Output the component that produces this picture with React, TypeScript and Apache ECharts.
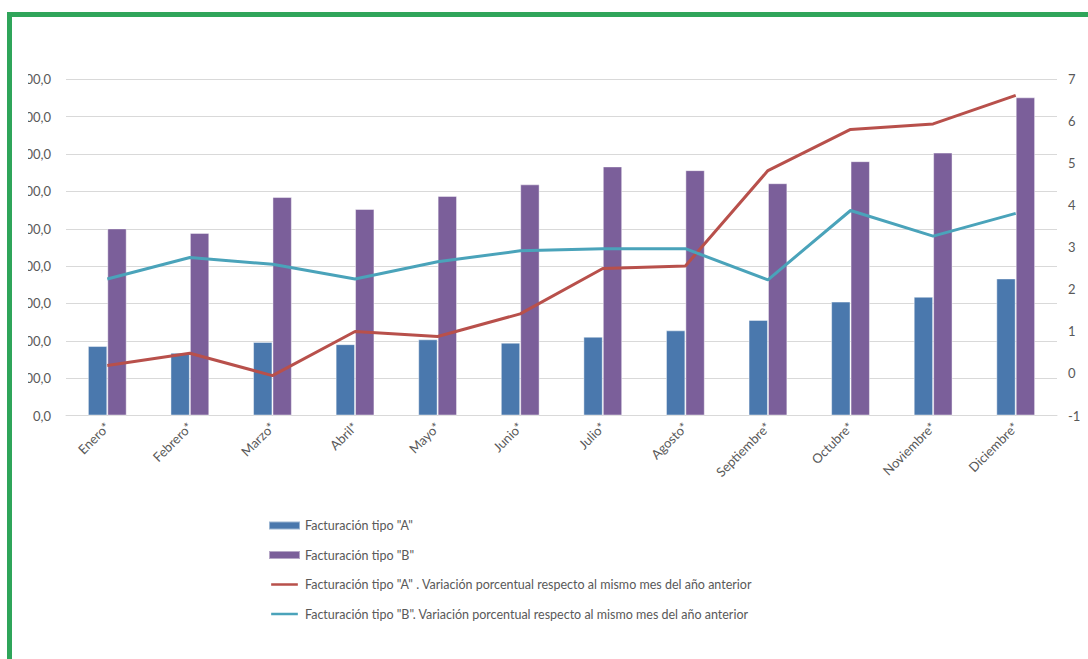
import React, { useEffect, useRef } from "react";
import * as echarts from "echarts";

const categories = ["Enero*", "Febrero*", "Marzo*", "Abril*", "Mayo*", "Junio*", "Julio*", "Agosto*", "Septiembre*", "Octubre*", "Noviembre*", "Diciembre*"];
const facturacionA = [186, 168, 197, 191, 204, 195, 211, 228, 256, 305, 318, 367];
const facturacionB = [501, 489, 585, 553, 588, 619, 667, 657, 622, 681, 704, 852];
const variacionA = [0.19, 0.48, -0.05, 1.0, 0.88, 1.42, 2.5, 2.56, 4.83, 5.81, 5.94, 6.62];
const variacionB = [2.25, 2.76, 2.6, 2.25, 2.66, 2.92, 2.97, 2.97, 2.23, 3.88, 3.27, 3.81];

const nameA = 'Facturación tipo "A"';
const nameB = 'Facturación tipo "B"';
const nameVA = 'Facturación tipo "A" . Variación porcentual respecto al mismo mes del año anterior';
const nameVB = 'Facturación tipo "B". Variación porcentual respecto al mismo mes del año anterior';

const FONT = "Lato";
const GREY = "#595959";
const GRID = "#d9d9d9";
const LINE_ICON = "path://M0,0L30,0L30,0.01ZM0,3L30,3L30,6L0,6ZM0,8.99L30,8.99L30,9Z";

export default function App() {
  const ref = useRef<HTMLDivElement>(null);
  useEffect(() => {
    if (!ref.current) return;
    const chart = echarts.init(ref.current, null, { renderer: "svg" });
    chart.setOption({
      animation: false,
      backgroundColor: "#ffffff",
      textStyle: { fontFamily: FONT },
      grid: { left: 66, right: 31, top: 79.4, bottom: 243.5, containLabel: false },
      legend: {
        orient: "vertical",
        left: 268,
        top: 519,
        padding: 0,
        itemGap: 16.5,
        itemWidth: 31,
        itemHeight: 8,
        textStyle: { color: GREY, fontSize: 12.5, fontFamily: FONT },
        data: [
          { name: nameA, icon: "rect" },
          { name: nameB, icon: "rect" },
          { name: nameVA, icon: LINE_ICON },
          { name: nameVB, icon: LINE_ICON },
        ],
      },
      xAxis: {
        type: "category",
        data: categories,
        boundaryGap: true,
        axisTick: { show: false },
        axisLine: { lineStyle: { color: GRID, width: 1 } },
        axisLabel: { rotate: 45, margin: 9, color: GREY, fontSize: 13, fontFamily: FONT, interval: 0 },
      },
      yAxis: [
        {
          type: "value",
          min: 0,
          max: 900,
          interval: 100,
          axisLine: { show: false },
          axisTick: { show: false },
          splitLine: { lineStyle: { color: GRID, width: 1 } },
          axisLabel: {
            margin: 15,
            color: GREY,
            fontSize: 13,
            fontFamily: FONT,
            formatter: (v: number) => v.toFixed(1).replace(".", ","),
          },
        },
        {
          type: "value",
          min: -1,
          max: 7,
          interval: 1,
          position: "right",
          axisLine: { show: false },
          axisTick: { show: false },
          splitLine: { show: false },
          axisLabel: { margin: 11, color: GREY, fontSize: 13, fontFamily: FONT },
        },
      ],
      series: [
        {
          name: nameA,
          type: "bar",
          data: facturacionA,
          barGap: "0%",
          barCategoryGap: "53%",
          itemStyle: { color: "#4a78ad", borderColor: "rgba(255,255,255,0.45)", borderWidth: 1 },
        },
        {
          name: nameB,
          type: "bar",
          data: facturacionB,
          itemStyle: { color: "#7b5f9a", borderColor: "rgba(255,255,255,0.45)", borderWidth: 1 },
        },
        {
          name: nameVA,
          type: "line",
          yAxisIndex: 1,
          data: variacionA,
          symbol: "none",
          z: 5,
          lineStyle: { color: "#b8504b", width: 3 },
          itemStyle: { color: "#b8504b" },
        },
        {
          name: nameVB,
          type: "line",
          yAxisIndex: 1,
          data: variacionB,
          symbol: "none",
          z: 5,
          lineStyle: { color: "#4aa3ba", width: 3 },
          itemStyle: { color: "#4aa3ba" },
        },
      ],
      graphic: [
        { type: "rect", z: 100, shape: { x: 0, y: 40, width: 28, height: 400 }, style: { fill: "#ffffff" } },
        { type: "rect", z: 101, shape: { x: 7, y: 12, width: 1081, height: 5 }, style: { fill: "#2fa55a" } },
        { type: "rect", z: 101, shape: { x: 7, y: 12, width: 5, height: 647 }, style: { fill: "#2fa55a" } },
      ],
    });
    return () => chart.dispose();
  }, []);
  return <div ref={ref} style={{ position: "fixed", left: 0, top: 0, width: 1088, height: 659 }} />;
}
